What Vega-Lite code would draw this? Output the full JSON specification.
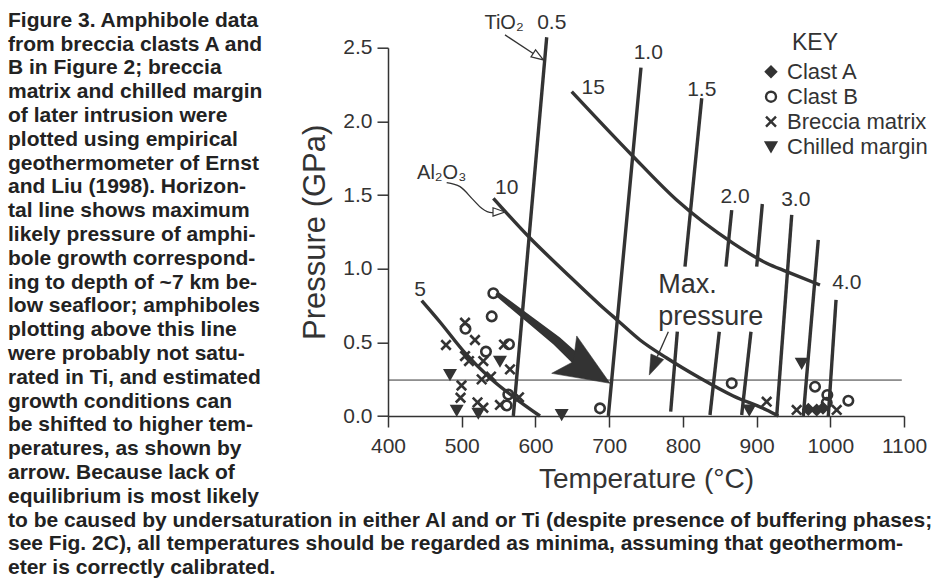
{
  "$schema": "https://vega.github.io/schema/vega-lite/v6.json",
  "width": 516,
  "height": 368.3,
  "autosize": {"type": "none"},
  "padding": {"left": 388, "top": 47.7, "right": 32, "bottom": 164},
  "background": "white",
  "config": {
    "view": {"stroke": null},
    "font": "Liberation Sans",
    "legend": {
      "orient": "none",
      "legendX": 372,
      "legendY": 13,
      "labelFontSize": 22,
      "labelColor": "#333333",
      "labelFont": "Liberation Sans",
      "symbolStrokeWidth": 2.4,
      "symbolStrokeColor": "#333333",
      "rowPadding": 3,
      "labelOffset": 5,
      "padding": 0
    }
  },
  "datasets": {
    "iso": [
      {"id": "0.5", "T": 570.0, "P": 0}, {"id": "0.5", "T": 615.3, "P": 2.571},
      {"id": "1.0", "T": 698.9, "P": 0}, {"id": "1.0", "T": 743.2, "P": 2.365},
      {"id": "1.5a", "T": 802.9, "P": 1.014}, {"id": "1.5a", "T": 825.6, "P": 2.157},
      {"id": "1.5b", "T": 783.5, "P": 0.029}, {"id": "1.5b", "T": 792.5, "P": 0.572},
      {"id": "2.0a", "T": 858.5, "P": 1.014}, {"id": "2.0a", "T": 866.3, "P": 1.398},
      {"id": "2.0b", "T": 836.8, "P": 0.007}, {"id": "2.0b", "T": 849.4, "P": 0.572},
      {"id": "2.5a", "T": 900.2, "P": 1.014}, {"id": "2.5a", "T": 907.8, "P": 1.439},
      {"id": "2.5b", "T": 879.8, "P": 0.007}, {"id": "2.5b", "T": 892.4, "P": 0.572},
      {"id": "3.0", "T": 927.3, "P": 0}, {"id": "3.0", "T": 947.7, "P": 1.365},
      {"id": "3.5", "T": 963.4, "P": 0}, {"id": "3.5", "T": 983.7, "P": 1.195},
      {"id": "4.0", "T": 997.3, "P": 0}, {"id": "4.0", "T": 1007.8, "P": 0.788}
    ],
    "al": [
      {"id": "5", "T": 445.7, "P": 0.783}, {"id": "5", "T": 470.5, "P": 0.638}, {"id": "5", "T": 504.5, "P": 0.428},
      {"id": "5", "T": 538.4, "P": 0.258}, {"id": "5", "T": 572.3, "P": 0.122}, {"id": "5", "T": 606.2, "P": 0},
      {"id": "10", "T": 542.9, "P": 1.478}, {"id": "10", "T": 592.6, "P": 1.208}, {"id": "10", "T": 640.1, "P": 0.978},
      {"id": "10", "T": 687.6, "P": 0.754}, {"id": "10", "T": 712.4, "P": 0.645}, {"id": "10", "T": 741.9, "P": 0.516},
      {"id": "10", "T": 778.1, "P": 0.394}, {"id": "10", "T": 823.2, "P": 0.258}, {"id": "10", "T": 868.4, "P": 0.136},
      {"id": "10", "T": 913.7, "P": 0.041}, {"id": "10", "T": 929.5, "P": 0},
      {"id": "15", "T": 649.2, "P": 2.202}, {"id": "15", "T": 730.6, "P": 1.772}, {"id": "15", "T": 791.6, "P": 1.466},
      {"id": "15", "T": 868.4, "P": 1.172}, {"id": "15", "T": 913.7, "P": 1.037}, {"id": "15", "T": 940.9, "P": 0.98},
      {"id": "15", "T": 986.0, "P": 0.889}
    ],
    "arrows": [
      {"id": "ti", "T": 558.7, "P": 2.587}, {"id": "ti", "T": 597.0, "P": 2.461},
      {"id": "al", "T": 479.6, "P": 1.584}, {"id": "al", "T": 497.7, "P": 1.557}, {"id": "al", "T": 515.7, "P": 1.467},
      {"id": "al", "T": 527.1, "P": 1.41}, {"id": "al", "T": 540.7, "P": 1.38}, {"id": "al", "T": 542.4, "P": 1.381},
      {"id": "mp", "T": 780.3, "P": 0.572}, {"id": "mp", "T": 765.3, "P": 0.403}
    ],
    "shaft": [
      {"T": 549.6, "P": 0.822}, {"T": 592.6, "P": 0.652}, {"T": 628.9, "P": 0.509}, {"T": 656.4, "P": 0.38}
    ],
    "bighead": [{"T": 668.9, "P": 0.317}],
    "tihead": [{"T": 603.9, "P": 2.439}],
    "alhead": [{"T": 550.6, "P": 1.385}],
    "mphead": [{"T": 759.9, "P": 0.34}],
    "maxline": [{"T": 400, "T2": 1097, "P": 0.244}],
    "pts": [
      {"s": "Clast B", "T": 542.9, "P": 0.833}, {"s": "Clast B", "T": 540.7, "P": 0.676}, {"s": "Clast B", "T": 505.1, "P": 0.592},
      {"s": "Clast B", "T": 564.1, "P": 0.487}, {"s": "Clast B", "T": 532.9, "P": 0.437}, {"s": "Clast B", "T": 563.2, "P": 0.146},
      {"s": "Clast B", "T": 561.0, "P": 0.071}, {"s": "Clast B", "T": 687.6, "P": 0.052}, {"s": "Clast B", "T": 866.3, "P": 0.222},
      {"s": "Clast B", "T": 979.3, "P": 0.199}, {"s": "Clast B", "T": 996.0, "P": 0.143}, {"s": "Clast B", "T": 995.2, "P": 0.09},
      {"s": "Clast B", "T": 1024.5, "P": 0.104},
      {"s": "Breccia matrix", "T": 504.5, "P": 0.633}, {"s": "Breccia matrix", "T": 478.7, "P": 0.482},
      {"s": "Breccia matrix", "T": 518.0, "P": 0.516}, {"s": "Breccia matrix", "T": 557.4, "P": 0.485},
      {"s": "Breccia matrix", "T": 504.5, "P": 0.407}, {"s": "Breccia matrix", "T": 509.9, "P": 0.373},
      {"s": "Breccia matrix", "T": 529.3, "P": 0.373}, {"s": "Breccia matrix", "T": 565.5, "P": 0.316},
      {"s": "Breccia matrix", "T": 527.1, "P": 0.249}, {"s": "Breccia matrix", "T": 539.7, "P": 0.267},
      {"s": "Breccia matrix", "T": 499.7, "P": 0.207}, {"s": "Breccia matrix", "T": 498.4, "P": 0.124},
      {"s": "Breccia matrix", "T": 577.7, "P": 0.127}, {"s": "Breccia matrix", "T": 521.4, "P": 0.092},
      {"s": "Breccia matrix", "T": 529.3, "P": 0.056}, {"s": "Breccia matrix", "T": 551.9, "P": 0.075},
      {"s": "Breccia matrix", "T": 913.7, "P": 0.097}, {"s": "Breccia matrix", "T": 954.4, "P": 0.041},
      {"s": "Breccia matrix", "T": 1008.7, "P": 0.041},
      {"s": "Chilled margin", "T": 551.9, "P": 0.373}, {"s": "Chilled margin", "T": 484.1, "P": 0.282},
      {"s": "Chilled margin", "T": 493.2, "P": 0.039}, {"s": "Chilled margin", "T": 522.5, "P": 0.02},
      {"s": "Chilled margin", "T": 635.6, "P": 0.01}, {"s": "Chilled margin", "T": 890.1, "P": 0.041},
      {"s": "Chilled margin", "T": 961.2, "P": 0.358},
      {"s": "Clast A", "T": 970.2, "P": 0.045}, {"s": "Clast A", "T": 981.6, "P": 0.041}, {"s": "Clast A", "T": 990.1, "P": 0.054}
    ],
    "nums": [
      {"t": "0.5", "T": 622.1, "P": 2.666}, {"t": "1.0", "T": 753.1, "P": 2.462}, {"t": "1.5", "T": 825.6, "P": 2.213},
      {"t": "2.0", "T": 870.7, "P": 1.489}, {"t": "3.0", "T": 953.2, "P": 1.466}, {"t": "4.0", "T": 1022.3, "P": 0.905},
      {"t": "15", "T": 678.5, "P": 2.225}, {"t": "10", "T": 561.0, "P": 1.546}, {"t": "5", "T": 443.4, "P": 0.855}
    ],
    "chem": [
      {"t": "TiO₂", "T": 557.4, "P": 2.666}, {"t": "Al₂O₃", "T": 472.8, "P": 1.648}
    ],
    "maxp": [
      {"t": "Max.", "T": 766.7, "P": 0.889}, {"t": "pressure", "T": 766.7, "P": 0.674}
    ],
    "key": [{"t": "KEY", "T": 979.3, "P": 2.53}],
    "caption": [
      {"n": 1, "t": "Figure 3. Amphibole data"},
      {"n": 2, "t": "from breccia clasts A and"},
      {"n": 3, "t": "B in Figure 2; breccia"},
      {"n": 4, "t": "matrix and chilled margin"},
      {"n": 5, "t": "of later intrusion were"},
      {"n": 6, "t": "plotted using empirical"},
      {"n": 7, "t": "geothermometer of Ernst"},
      {"n": 8, "t": "and Liu (1998). Horizon-"},
      {"n": 9, "t": "tal line shows maximum"},
      {"n": 10, "t": "likely pressure of amphi-"},
      {"n": 11, "t": "bole growth correspond-"},
      {"n": 12, "t": "ing to depth of ~7 km be-"},
      {"n": 13, "t": "low seafloor; amphiboles"},
      {"n": 14, "t": "plotting above this line"},
      {"n": 15, "t": "were probably not satu-"},
      {"n": 16, "t": "rated in Ti, and estimated"},
      {"n": 17, "t": "growth conditions can"},
      {"n": 18, "t": "be shifted to higher tem-"},
      {"n": 19, "t": "peratures, as shown by"},
      {"n": 20, "t": "arrow. Because lack of"},
      {"n": 21, "t": "equilibrium is most likely"},
      {"n": 22, "t": "to be caused by undersaturation in either Al and or Ti (despite presence of buffering phases;"},
      {"n": 23, "t": "see Fig. 2C), all temperatures should be regarded as minima, assuming that geothermom-"},
      {"n": 24, "t": "eter is correctly calibrated."}
    ]
  },
  "layer": [
    {
      "layer": [
        {
          "data": {"name": "iso"},
          "mark": {"type": "line", "color": "#333333", "strokeWidth": 3.4, "strokeCap": "butt"},
          "encoding": {
            "x": {
              "field": "T", "type": "quantitative",
              "scale": {"domain": [400, 1100], "nice": false, "zero": false},
              "axis": {
                "values": [400, 500, 600, 700, 800, 900, 1000, 1100], "format": "d",
                "title": "Temperature (°C)", "titleFontSize": 28, "titleFontWeight": "normal",
                "titleColor": "#333333", "titleFont": "Liberation Sans", "titlePadding": 9,
                "labelFontSize": 21, "labelColor": "#333333", "labelFont": "Liberation Sans", "labelPadding": 8,
                "tickSize": 11, "tickColor": "#333333", "tickWidth": 1.5,
                "domainColor": "#333333", "domainWidth": 1.5, "grid": false,
                "labelFlush": false, "labelOverlap": false
              }
            },
            "y": {
              "field": "P", "type": "quantitative",
              "scale": {"domain": [0, 2.5], "nice": false, "zero": false},
              "axis": {
                "values": [0, 0.5, 1, 1.5, 2, 2.5], "format": ".1f",
                "title": "Pressure (GPa)", "titleFontSize": 31, "titleFontWeight": "normal",
                "titleColor": "#333333", "titleFont": "Liberation Sans", "titlePadding": 11,
                "labelFontSize": 21, "labelColor": "#333333", "labelFont": "Liberation Sans", "labelPadding": 5,
                "tickSize": 11, "tickColor": "#333333", "tickWidth": 1.5,
                "domainColor": "#333333", "domainWidth": 1.5, "grid": false,
                "labelFlush": false, "labelOverlap": false
              }
            },
            "detail": {"field": "id", "type": "nominal"}
          }
        },
        {
          "data": {"name": "al"},
          "mark": {"type": "line", "color": "#333333", "strokeWidth": 3.4, "interpolate": "monotone", "strokeCap": "butt"},
          "encoding": {
            "x": {"field": "T", "type": "quantitative"},
            "y": {"field": "P", "type": "quantitative"},
            "detail": {"field": "id", "type": "nominal"}
          }
        },
        {
          "data": {"name": "maxline"},
          "mark": {"type": "rule", "color": "#333333", "strokeWidth": 1},
          "encoding": {
            "x": {"field": "T", "type": "quantitative"},
            "x2": {"field": "T2"},
            "y": {"field": "P", "type": "quantitative"}
          }
        },
        {
          "data": {"name": "arrows"},
          "mark": {"type": "line", "color": "#333333", "strokeWidth": 1.3, "interpolate": "monotone"},
          "encoding": {
            "x": {"field": "T", "type": "quantitative"},
            "y": {"field": "P", "type": "quantitative"},
            "detail": {"field": "id", "type": "nominal"}
          }
        },
        {
          "data": {"name": "shaft"},
          "mark": {"type": "trail", "color": "#333333", "opacity": 1},
          "encoding": {
            "x": {"field": "T", "type": "quantitative"},
            "y": {"field": "P", "type": "quantitative"},
            "order": {"field": "T", "type": "quantitative"},
            "size": {"field": "T", "type": "quantitative", "scale": {"domain": [549.6, 656.4], "range": [5, 11]}, "legend": null}
          }
        },
        {
          "data": {"name": "bighead"},
          "mark": {"type": "point", "shape": "M0.986,0L-0.989,0.75L-0.536,0L-0.896,-0.854Z", "size": 3136, "angle": 30.5, "fill": "#333333", "stroke": "#333333", "strokeWidth": 0.5, "opacity": 1, "filled": true},
          "encoding": {
            "x": {"field": "T", "type": "quantitative"},
            "y": {"field": "P", "type": "quantitative"}
          }
        },
        {
          "data": {"name": "tihead"},
          "mark": {"type": "point", "shape": "M1,0L-1,-0.7L-1,0.7Z", "size": 144, "angle": 33, "fill": "white", "stroke": "#333333", "strokeWidth": 1.2, "opacity": 1, "filled": true},
          "encoding": {
            "x": {"field": "T", "type": "quantitative"},
            "y": {"field": "P", "type": "quantitative"}
          }
        },
        {
          "data": {"name": "alhead"},
          "mark": {"type": "point", "shape": "M1,0L-1,-0.7L-1,0.7Z", "size": 144, "angle": 0, "fill": "white", "stroke": "#333333", "strokeWidth": 1.2, "opacity": 1, "filled": true},
          "encoding": {
            "x": {"field": "T", "type": "quantitative"},
            "y": {"field": "P", "type": "quantitative"}
          }
        },
        {
          "data": {"name": "mphead"},
          "mark": {"type": "point", "shape": "M1,0L-1,-0.7L-1,0.7Z", "size": 400, "angle": 113.7, "fill": "#333333", "stroke": "#333333", "strokeWidth": 0.5, "opacity": 1, "filled": true},
          "encoding": {
            "x": {"field": "T", "type": "quantitative"},
            "y": {"field": "P", "type": "quantitative"}
          }
        },
        {
          "data": {"name": "pts"},
          "mark": {"type": "point", "size": 90, "strokeWidth": 2.6, "opacity": 1},
          "encoding": {
            "x": {"field": "T", "type": "quantitative"},
            "y": {"field": "P", "type": "quantitative"},
            "shape": {
              "field": "s", "type": "nominal",
              "scale": {"domain": ["Clast A", "Clast B", "Breccia matrix", "Chilled margin"], "range": ["diamond", "circle", "M-1,-1L1,1M-1,1L1,-1", "triangle-down"]},
              "legend": {"title": null}
            },
            "fill": {
              "field": "s", "type": "nominal",
              "scale": {"domain": ["Clast A", "Clast B", "Breccia matrix", "Chilled margin"], "range": ["#333333", "transparent", "transparent", "#333333"]},
              "legend": {"title": null}
            },
            "stroke": {
              "field": "s", "type": "nominal",
              "scale": {"domain": ["Clast A", "Clast B", "Breccia matrix", "Chilled margin"], "range": ["#333333", "#333333", "#333333", "#333333"]},
              "legend": {"title": null}
            }
          }
        },
        {
          "data": {"name": "nums"},
          "mark": {"type": "text", "fontSize": 21, "color": "#333333", "align": "center", "baseline": "middle"},
          "encoding": {
            "x": {"field": "T", "type": "quantitative"},
            "y": {"field": "P", "type": "quantitative"},
            "text": {"field": "t"}
          }
        },
        {
          "data": {"name": "chem"},
          "mark": {"type": "text", "fontSize": 20, "color": "#333333", "align": "center", "baseline": "middle"},
          "encoding": {
            "x": {"field": "T", "type": "quantitative"},
            "y": {"field": "P", "type": "quantitative"},
            "text": {"field": "t"}
          }
        },
        {
          "data": {"name": "maxp"},
          "mark": {"type": "text", "fontSize": 27, "color": "#333333", "align": "left", "baseline": "middle"},
          "encoding": {
            "x": {"field": "T", "type": "quantitative"},
            "y": {"field": "P", "type": "quantitative"},
            "text": {"field": "t"}
          }
        },
        {
          "data": {"name": "key"},
          "mark": {"type": "text", "fontSize": 23, "color": "#333333", "align": "center", "baseline": "middle"},
          "encoding": {
            "x": {"field": "T", "type": "quantitative"},
            "y": {"field": "P", "type": "quantitative"},
            "text": {"field": "t"}
          }
        }
      ]
    },
    {
      "data": {"name": "caption"},
      "mark": {"type": "text", "fontSize": 21, "fontWeight": "bold", "color": "#222222", "align": "left", "baseline": "alphabetic", "font": "Liberation Sans"},
      "encoding": {
        "x": {"value": -380},
        "y": {"field": "n", "type": "quantitative", "scale": {"domain": [1, 24], "range": [-21, 526.4], "zero": false, "nice": false}, "axis": null},
        "text": {"field": "t"}
      }
    }
  ],
  "resolve": {"scale": {"y": "independent", "x": "independent", "size": "independent"}}
}
